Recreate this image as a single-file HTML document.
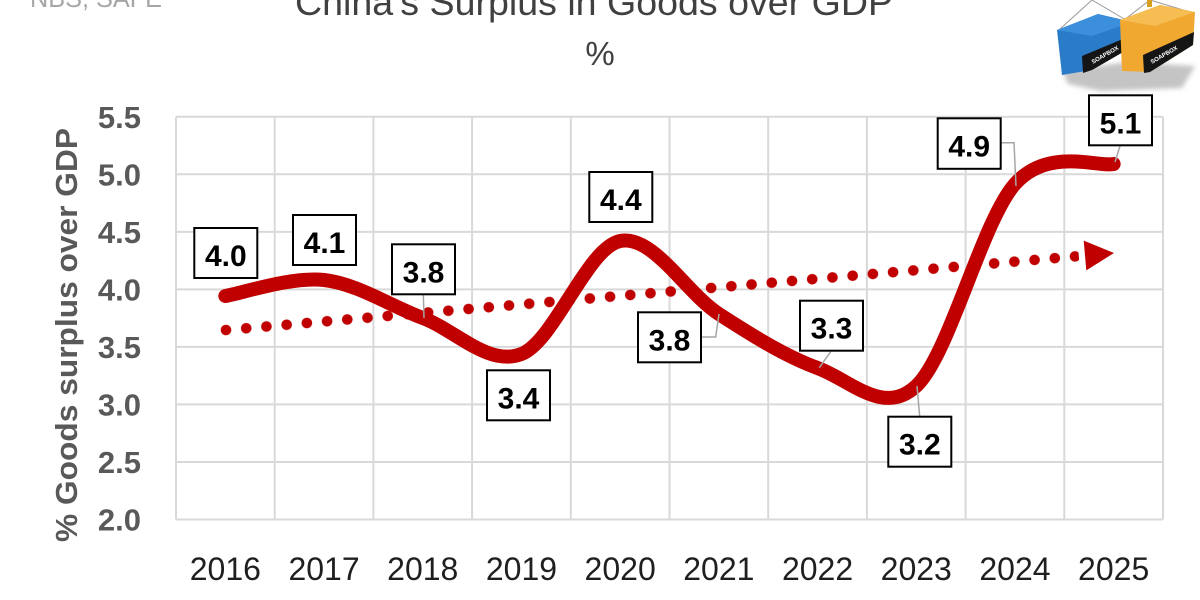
<!DOCTYPE html>
<html>
<head>
<meta charset="utf-8">
<style>
  html, body { margin: 0; padding: 0; background: #ffffff; }
  svg { display: block; }
</style>
</head>
<body>
<svg width="1200" height="600" viewBox="0 0 1200 600" xmlns="http://www.w3.org/2000/svg">
  <defs>
    <filter id="blur" x="-20%" y="-50%" width="140%" height="200%">
      <feGaussianBlur stdDeviation="2.5"/>
    </filter>
    <pattern id="dots" patternUnits="userSpaceOnUse" width="20.29" height="12" patternTransform="translate(-10.145 -6)">
      <circle cx="10.145" cy="6" r="5.3" fill="#c00000"/>
    </pattern>
  </defs>
  <rect x="0" y="0" width="1200" height="600" fill="#ffffff"/>

  <text x="30" y="7" font-family="Liberation Sans, sans-serif" font-size="26" fill="#a6a6a6" textLength="132" lengthAdjust="spacingAndGlyphs">NBS, SAFE</text>
  <text x="295" y="15" font-family="Liberation Sans, sans-serif" font-size="37" fill="#404040" textLength="598" lengthAdjust="spacingAndGlyphs">China's Surplus in Goods over GDP</text>
  <text x="600" y="65" text-anchor="middle" font-family="Liberation Sans, sans-serif" font-size="33" fill="#404040">%</text>

  <g>
    <polygon points="1062,70 1130,62 1195,66 1182,88 1100,91 1068,84" fill="#c4c4c4" filter="url(#blur)"/>
    <line x1="1092" y1="0" x2="1060" y2="29" stroke="#999" stroke-width="1"/>
    <line x1="1092" y1="0" x2="1126" y2="20" stroke="#999" stroke-width="1"/>
    <line x1="1150" y1="0" x2="1124" y2="20" stroke="#999" stroke-width="1"/>
    <line x1="1150" y1="0" x2="1190" y2="12" stroke="#999" stroke-width="1"/>
    <rect x="1147" y="0" width="5" height="7" fill="#d9a020"/>
    <polygon points="1057,30 1098,14 1132,22 1130,48 1092,70 1062,75" fill="#2b7cc8"/>
    <polygon points="1057,30 1098,14 1132,22 1092,36" fill="#3c8fda"/>
    <polygon points="1082,56 1130,36 1130,48 1092,70 1083,73" fill="#151515"/>
    <text x="1093" y="64" font-family="Liberation Sans, sans-serif" font-size="6" font-weight="bold" fill="#ffffff" transform="rotate(-30 1093 64)">SOAPBOX</text>
    <polygon points="1120,20 1160,5 1195,12 1193,45 1150,72 1122,71" fill="#f0a830"/>
    <polygon points="1120,20 1160,5 1195,12 1155,26" fill="#f6bd52"/>
    <polygon points="1143,55 1194,32 1193,45 1150,72 1144,73" fill="#151515"/>
    <text x="1152" y="64" font-family="Liberation Sans, sans-serif" font-size="6" font-weight="bold" fill="#ffffff" transform="rotate(-30 1152 64)">SOAPBOX</text>
  </g>

  <g stroke="#d9d9d9" stroke-width="2" fill="none">
    <path d="M176,116.8H1163 M176,174.3H1163 M176,231.9H1163 M176,289.4H1163 M176,346.9H1163 M176,404.4H1163 M176,462H1163 M176,519.5H1163"/>
    <path d="M176,116.8V519.5 M274.7,116.8V519.5 M373.4,116.8V519.5 M472.1,116.8V519.5 M570.8,116.8V519.5 M669.5,116.8V519.5 M768.2,116.8V519.5 M866.9,116.8V519.5 M965.6,116.8V519.5 M1064.3,116.8V519.5 M1163,116.8V519.5"/>
  </g>

  <g font-family="Liberation Sans, sans-serif" font-size="31" font-weight="bold" fill="#595959" text-anchor="end">
    <text x="141" y="128">5.5</text>
    <text x="141" y="185.5">5.0</text>
    <text x="141" y="243">4.5</text>
    <text x="141" y="300.5">4.0</text>
    <text x="141" y="358">3.5</text>
    <text x="141" y="415.5">3.0</text>
    <text x="141" y="473">2.5</text>
    <text x="141" y="530.5">2.0</text>
  </g>

  <text x="0" y="0" transform="translate(77 335) rotate(-90)" text-anchor="middle" font-family="Liberation Sans, sans-serif" font-size="31" font-weight="bold" fill="#595959" textLength="414" lengthAdjust="spacingAndGlyphs">% Goods surplus over GDP</text>

  <g font-family="Liberation Sans, sans-serif" font-size="32" fill="#1f1f1f" text-anchor="middle">
    <text x="225.35" y="580">2016</text>
    <text x="324.05" y="580">2017</text>
    <text x="422.75" y="580">2018</text>
    <text x="521.45" y="580">2019</text>
    <text x="620.15" y="580">2020</text>
    <text x="718.85" y="580">2021</text>
    <text x="817.55" y="580">2022</text>
    <text x="916.25" y="580">2023</text>
    <text x="1014.95" y="580">2024</text>
    <text x="1113.65" y="580">2025</text>
  </g>

  <rect x="-6" y="-6" width="862" height="12" transform="translate(226 330) rotate(-4.955)" fill="url(#dots)"/>
  <polygon points="1083.7,240.6 1086.3,270.4 1114,253" fill="#c00000"/>

  <path d="M225.35,296 C241.8,293.3 291.15,276.33 324.05,280 C357,283.67 389.85,305.67 422.75,318 C455.65,330.33 488.55,366.83 521.45,354 C554.35,341.17 587.25,247.67 620.15,241 C653.05,234.33 685.95,292.83 718.85,314 C751.75,335.17 784.65,356 817.55,368 C850.45,380 883.35,416.67 916.25,386 C949.15,355.33 982.05,221 1014.95,184 C1047.85,147 1097.2,167.33 1113.65,164" fill="none" stroke="#c00000" stroke-width="14" stroke-linecap="round" stroke-linejoin="round"/>

  <g stroke="#a6a6a6" stroke-width="1.5" fill="none">
    <polyline points="423.3,294 424,318"/>
    <polyline points="701,337 715.7,337 719,314"/>
    <polyline points="830.7,351.7 819.3,367.7"/>
    <polyline points="919.7,416.7 917,386"/>
    <polyline points="1000.7,142.7 1014,142.7 1016,186"/>
    <polyline points="1120,146 1115,162"/>
  </g>

  <g fill="#ffffff" stroke="#000" stroke-width="2">
    <rect x="194.3" y="228" width="63" height="50"/>
    <rect x="293" y="215" width="63" height="50"/>
    <rect x="392" y="244.3" width="63" height="50"/>
    <rect x="487" y="370.3" width="63" height="50"/>
    <rect x="589.3" y="172" width="63" height="50"/>
    <rect x="638" y="312.3" width="63" height="50"/>
    <rect x="800" y="300.7" width="63" height="50"/>
    <rect x="888.3" y="416.7" width="63" height="50"/>
    <rect x="937.7" y="118.3" width="63" height="50.5"/>
    <rect x="1089" y="95.3" width="63" height="50"/>
  </g>
  <g font-family="Liberation Sans, sans-serif" font-size="30" font-weight="bold" fill="#000000" text-anchor="middle">
    <text x="225.8" y="266">4.0</text>
    <text x="324.5" y="253">4.1</text>
    <text x="423.5" y="282.3">3.8</text>
    <text x="518.5" y="408.3">3.4</text>
    <text x="620.8" y="210">4.4</text>
    <text x="669.5" y="350.3">3.8</text>
    <text x="831.5" y="338.7">3.3</text>
    <text x="919.8" y="454.7">3.2</text>
    <text x="969.2" y="156.5">4.9</text>
    <text x="1120.5" y="133.3">5.1</text>
  </g>
</svg>
</body>
</html>
